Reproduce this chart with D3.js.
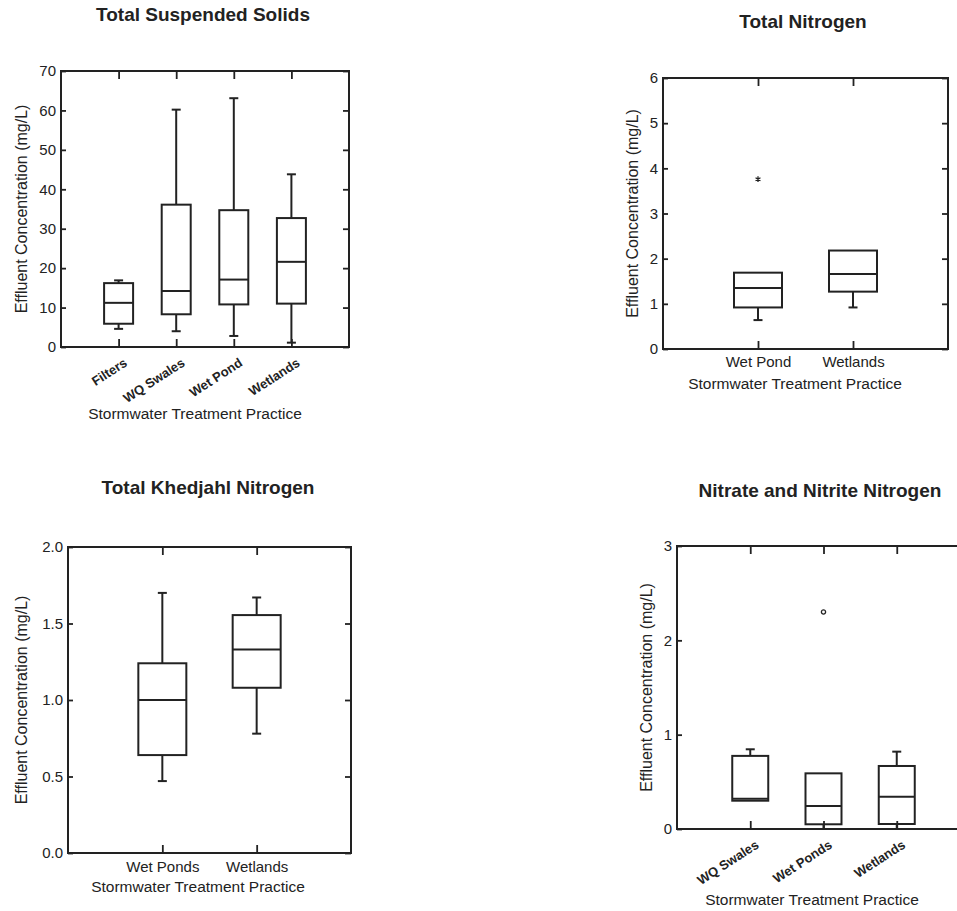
<!DOCTYPE html>
<html>
<head>
<meta charset="utf-8">
<script src="https://cdn.jsdelivr.net/npm/d3@7"></script>
<style>
  body { margin: 0; background: #fff; }
  svg { display: block; }
  text { font-family: "Liberation Sans", Arial, sans-serif; fill: #222; }
</style>
</head>
<body>
<svg id="chart" width="957" height="911"></svg>
<script>
// Total Suspended Solids
const tssCategories = ["Filters", "WQ Swales", "Wet Pond", "Wetlands"];
const tssLow = [4.6, 4.0, 2.8, 1.1];
const tssQ1 = [5.9, 8.3, 10.8, 11.0];
const tssMedian = [11.2, 14.2, 17.1, 21.6];
const tssQ3 = [16.2, 36.1, 34.7, 32.7];
const tssHigh = [16.9, 60.2, 63.1, 43.8];
const tssTicks = [0, 10, 20, 30, 40, 50, 60, 70];

// Total Nitrogen
const tnCategories = ["Wet Pond", "Wetlands"];
const tnLow = [0.64, 0.92];
const tnQ1 = [0.92, 1.27];
const tnMedian = [1.35, 1.66];
const tnQ3 = [1.69, 2.18];
const tnHigh = [1.69, 2.18];
const tnOutliers = [{ cat: "Wet Pond", value: 3.76 }];
const tnTicks = [0, 1, 2, 3, 4, 5, 6];

// Total Khedjahl Nitrogen
const tknCategories = ["Wet Ponds", "Wetlands"];
const tknLow = [0.47, 0.78];
const tknQ1 = [0.64, 1.08];
const tknMedian = [1.0, 1.33];
const tknQ3 = [1.24, 1.555];
const tknHigh = [1.70, 1.67];
const tknTicks = [0, 0.5, 1.0, 1.5, 2.0];

// Nitrate and Nitrite Nitrogen
const noxCategories = ["WQ Swales", "Wet Ponds", "Wetlands"];
const noxLow = [0.30, 0.0, 0.0];
const noxQ1 = [0.30, 0.05, 0.053];
const noxMedian = [0.32, 0.245, 0.343];
const noxQ3 = [0.775, 0.59, 0.668];
const noxHigh = [0.845, 0.59, 0.82];
const noxOutliers = [{ cat: "Wet Ponds", value: 2.30 }];
const noxTicks = [0, 1, 2, 3];

function zipBoxes(cats, low, q1, med, q3, high) {
  return cats.map((c, i) => ({ cat: c, low: low[i], q1: q1[i], median: med[i], q3: q3[i], high: high[i] }));
}

const panels = [
  {
    title: "Total Suspended Solids", titleX: 203, titleY: 21,
    left: 61, right: 349, top: 71, bottom: 347,
    domain: [0, 70], ticks: tssTicks, fmt: d3.format("d"),
    boxes: zipBoxes(tssCategories, tssLow, tssQ1, tssMedian, tssQ3, tssHigh),
    outliers: [], outlierSymbol: null,
    boxWidth: 29, rotateLabels: true, labelPad: 0,
    yLabelX: 21, xTitleX: 195, xTitleY: 419
  },
  {
    title: "Total Nitrogen", titleX: 803, titleY: 28,
    left: 663, right: 948, top: 78, bottom: 349,
    domain: [0, 6], ticks: tnTicks, fmt: d3.format("d"),
    boxes: zipBoxes(tnCategories, tnLow, tnQ1, tnMedian, tnQ3, tnHigh),
    outliers: tnOutliers, outlierSymbol: d3.symbolAsterisk,
    boxWidth: 48, rotateLabels: false, labelPad: 7,
    yLabelX: 632, xTitleX: 795, xTitleY: 389
  },
  {
    title: "Total Khedjahl Nitrogen", titleX: 208, titleY: 494,
    left: 68, right: 351, top: 547, bottom: 853,
    domain: [0, 2], ticks: tknTicks, fmt: d3.format(".1f"),
    boxes: zipBoxes(tknCategories, tknLow, tknQ1, tknMedian, tknQ3, tknHigh),
    outliers: [], outlierSymbol: null,
    boxWidth: 48, rotateLabels: false, labelPad: 8,
    yLabelX: 21, xTitleX: 198, xTitleY: 892
  },
  {
    title: "Nitrate and Nitrite Nitrogen", titleX: 820, titleY: 497,
    left: 677, right: 970, top: 546, bottom: 829,
    domain: [0, 3], ticks: noxTicks, fmt: d3.format("d"),
    boxes: zipBoxes(noxCategories, noxLow, noxQ1, noxMedian, noxQ3, noxHigh),
    outliers: noxOutliers, outlierSymbol: d3.symbolCircle,
    boxWidth: 36, rotateLabels: true, labelPad: 0,
    yLabelX: 646, xTitleX: 812, xTitleY: 905
  }
];

const svg = d3.select("#chart");
const capWidth = 9;

panels.forEach(p => {
  const g = svg.append("g");
  const x = d3.scalePoint().domain(p.boxes.map(d => d.cat)).range([p.left, p.right]).padding(1);
  const y = d3.scaleLinear().domain(p.domain).range([p.bottom, p.top]);

  // title
  g.append("text")
    .attr("x", p.titleX).attr("y", p.titleY)
    .attr("text-anchor", "middle")
    .style("font-size", "19px").style("font-weight", "bold")
    .text(p.title);

  // frame
  g.append("rect")
    .attr("x", p.left).attr("y", p.top)
    .attr("width", p.right - p.left).attr("height", p.bottom - p.top)
    .attr("fill", "none").attr("stroke", "#222").attr("stroke-width", 2);

  // left axis: inward short ticks
  const yLeft = g.append("g").attr("transform", `translate(${p.left},0)`)
    .call(d3.axisLeft(y).tickValues(p.ticks).tickFormat(p.fmt).tickSizeInner(-5).tickSizeOuter(0).tickPadding(5));
  yLeft.select(".domain").remove();
  yLeft.selectAll("line").attr("stroke", "#222").attr("stroke-width", 1.8);
  yLeft.selectAll("text").style("font-size", "15px").attr("fill", "#333");

  // right axis: inward ticks, no labels
  const yRight = g.append("g").attr("transform", `translate(${p.right},0)`)
    .call(d3.axisRight(y).tickValues(p.ticks).tickFormat("").tickSizeInner(-6).tickSizeOuter(0));
  yRight.select(".domain").remove();
  yRight.selectAll("line").attr("stroke", "#222").attr("stroke-width", 1.8);

  // top axis: inward ticks at categories
  const xTop = g.append("g").attr("transform", `translate(0,${p.top})`)
    .call(d3.axisTop(x).tickFormat("").tickSizeInner(-8).tickSizeOuter(0));
  xTop.select(".domain").remove();
  xTop.selectAll("line").attr("stroke", "#222").attr("stroke-width", 1.8);

  // bottom axis: inward ticks, labels below
  const xBottom = g.append("g").attr("transform", `translate(0,${p.bottom})`)
    .call(d3.axisBottom(x).tickSizeInner(-8).tickSizeOuter(0).tickPadding(p.labelPad));
  xBottom.select(".domain").remove();
  xBottom.selectAll("line").attr("stroke", "#222").attr("stroke-width", 1.8);
  if (p.rotateLabels) {
    xBottom.selectAll("text")
      .style("font-size", "13px").style("font-weight", "bold")
      .attr("text-anchor", "end")
      .attr("y", 0).attr("dy", 0)
      .attr("transform", "translate(9,18) rotate(-33)");
  } else {
    xBottom.selectAll("text").style("font-size", "15px").attr("fill", "#333");
  }

  // axis titles
  g.append("text")
    .attr("transform", `translate(${p.yLabelX},${(p.top + p.bottom) / 2}) rotate(-90)`)
    .attr("text-anchor", "middle").attr("dy", "0.35em")
    .style("font-size", "16px").attr("fill", "#333")
    .text("Effluent Concentration (mg/L)");
  g.append("text")
    .attr("x", p.xTitleX).attr("y", p.xTitleY)
    .attr("text-anchor", "middle")
    .style("font-size", "15.5px").attr("fill", "#333")
    .text("Stormwater Treatment Practice");

  // boxes
  const bw = p.boxWidth, cw = capWidth;
  const box = g.selectAll(".box").data(p.boxes).join("g").attr("class", "box")
    .attr("stroke", "#222").attr("stroke-width", 2).attr("fill", "none");
  box.filter(d => d.high > d.q3).append("line")
    .attr("x1", d => x(d.cat)).attr("x2", d => x(d.cat))
    .attr("y1", d => y(d.q3)).attr("y2", d => y(d.high));
  box.filter(d => d.high > d.q3).append("line")
    .attr("x1", d => x(d.cat) - cw / 2).attr("x2", d => x(d.cat) + cw / 2)
    .attr("y1", d => y(d.high)).attr("y2", d => y(d.high));
  box.filter(d => d.low < d.q1).append("line")
    .attr("x1", d => x(d.cat)).attr("x2", d => x(d.cat))
    .attr("y1", d => y(d.q1)).attr("y2", d => y(d.low));
  box.filter(d => d.low < d.q1).append("line")
    .attr("x1", d => x(d.cat) - cw / 2).attr("x2", d => x(d.cat) + cw / 2)
    .attr("y1", d => y(d.low)).attr("y2", d => y(d.low));
  box.append("rect")
    .attr("x", d => x(d.cat) - bw / 2).attr("width", bw)
    .attr("y", d => y(d.q3)).attr("height", d => y(d.q1) - y(d.q3));
  box.append("line")
    .attr("x1", d => x(d.cat) - bw / 2).attr("x2", d => x(d.cat) + bw / 2)
    .attr("y1", d => y(d.median)).attr("y2", d => y(d.median));

  // outliers
  if (p.outlierSymbol) {
    g.selectAll(".outlier").data(p.outliers).join("path").attr("class", "outlier")
      .attr("transform", d => `translate(${x(d.cat)},${y(d.value)})`)
      .attr("d", d3.symbol().type(p.outlierSymbol).size(p.outlierSymbol === d3.symbolCircle ? 14 : 22))
      .attr("fill", "none").attr("stroke", "#222").attr("stroke-width", 1.3);
  }
});
</script>
</body>
</html>
